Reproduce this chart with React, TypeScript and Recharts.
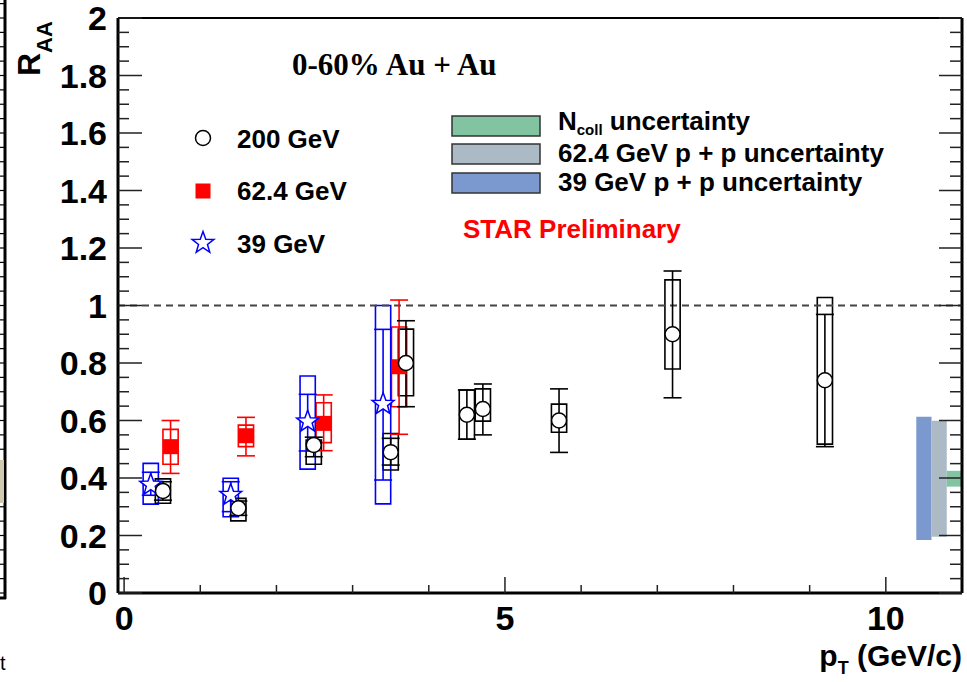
import React from "react";
import {
  ErrorBar,
  ReferenceArea,
  ReferenceLine,
  Scatter,
  ScatterChart,
  XAxis,
  YAxis,
} from "recharts";

// 200 GeV (open black circles)
const pt200 = [0.51, 1.5, 2.49, 3.5, 3.7, 4.5, 4.71, 5.71, 7.2, 9.2];
const raa200 = [0.355, 0.295, 0.515, 0.49, 0.8, 0.62, 0.64, 0.6, 0.9, 0.74];
const statLo200 = [0.323, 0.27, 0.474, 0.445, 0.648, 0.535, 0.55, 0.489, 0.679, 0.509];
const statHi200 = [0.387, 0.32, 0.542, 0.538, 0.947, 0.706, 0.727, 0.71, 1.12, 0.969];
const sysLo200 = [0.312, 0.251, 0.448, 0.428, 0.686, 0.535, 0.598, 0.559, 0.779, 0.518];
const sysHi200 = [0.397, 0.329, 0.532, 0.555, 0.918, 0.706, 0.71, 0.657, 1.089, 1.028];

// 62.4 GeV (red squares)
const pt62 = [0.61, 1.6, 2.62, 3.61];
const raa62 = [0.509, 0.547, 0.59, 0.787];
const statLo62 = [0.416, 0.477, 0.495, 0.552];
const statHi62 = [0.6, 0.611, 0.689, 1.019];
const sysLo62 = [0.448, 0.509, 0.523, 0.648];
const sysHi62 = [0.569, 0.584, 0.662, 0.925];

// 39 GeV (open blue stars)
const pt39 = [0.35, 1.4, 2.41, 3.4];
const raa39 = [0.376, 0.341, 0.596, 0.657];
const statLo39 = [0.34, 0.283, 0.494, 0.393];
const statHi39 = [0.42, 0.387, 0.691, 0.917];
const sysLo39 = [0.309, 0.265, 0.431, 0.31];
const sysHi39 = [0.451, 0.399, 0.755, 1.0];

// normalisation bands at the right edge
const bandNames = ["39 GeV p + p uncertainty", "62.4 GeV p + p uncertainty", "Ncoll uncertainty"];
const bandX1 = [10.4, 10.6, 10.8];
const bandX2 = [10.6, 10.8, 11.0];
const bandLo = [0.184, 0.196, 0.37];
const bandHi = [0.613, 0.599, 0.425];
const bandColors = ["#7b98cf", "#abbac4", "#82c4a1"];

const yMajorTicks = [0, 0.2, 0.4, 0.6, 0.8, 1, 1.2, 1.4, 1.6, 1.8, 2];
const yTickLabels = ["0", "0.2", "0.4", "0.6", "0.8", "1", "1.2", "1.4", "1.6", "1.8", "2"];
const yAllTicks = Array.from({ length: 41 }, (_, i) => i / 20);
const xMajorTicks = [0, 5, 10];
const xTickLabels = ["0", "5", "10"];
const xAllTicks = [0, 1, 2, 3, 4, 5, 6, 7, 8, 9, 10];

const X_DOMAIN: [number, number] = [-0.08, 11];
const BOX_HALF = 0.1;
const SANS = "'Liberation Sans', Arial, Helvetica, sans-serif";
const SERIF = "'Liberation Serif', 'Times New Roman', serif";

function build(pt: number[], v: number[], lo: number[], hi: number[]) {
  return pt.map((p, i) => ({ pt: p, v: v[i], err: [v[i] - lo[i], hi[i] - v[i]] }));
}

const data200 = build(pt200, raa200, statLo200, statHi200);
const data62 = build(pt62, raa62, statLo62, statHi62);
const data39 = build(pt39, raa39, statLo39, statHi39);

const near = (a: number, b: number) => Math.abs(a - b) < 1e-6;

function starPoints(cx: number, cy: number, R: number, r: number) {
  const pts: string[] = [];
  for (let k = 0; k < 10; k++) {
    const ang = -Math.PI / 2 + (k * Math.PI) / 5;
    const rad = k % 2 === 0 ? R : r;
    pts.push(`${cx + rad * Math.cos(ang)},${cy + rad * Math.sin(ang)}`);
  }
  return pts.join(" ");
}

const CircleMark = (p: any) => (
  <circle cx={p.cx} cy={p.cy} r={7.5} fill="#fff" stroke="#000" strokeWidth={1.5} />
);
const SquareMark = (p: any) => <rect x={p.cx - 7.5} y={p.cy - 7.5} width={15} height={15} fill="#ff0000" />;
const StarMark = (p: any) => (
  <polygon points={starPoints(p.cx, p.cy, 11.5, 4.7)} fill="#fff" stroke="#0000ff" strokeWidth={1.5} />
);

function LeftTick(props: any) {
  const { x, y, payload } = props;
  const idx = yMajorTicks.findIndex((t) => near(t, payload.value));
  const major = idx >= 0;
  return (
    <g>
      <line x1={x} x2={x + (major ? 24 : 11)} y1={y} y2={y} stroke="#222" strokeWidth={1.5} />
      {major && (
        <text x={x - 11} y={y + 12} textAnchor="end" fontFamily={SANS} fontWeight="bold" fontSize={34} fill="#000">
          {yTickLabels[idx]}
        </text>
      )}
    </g>
  );
}

function RightTick(props: any) {
  const { x, y, payload } = props;
  const major = yMajorTicks.some((t) => near(t, payload.value));
  return <line x1={x - (major ? 23 : 12)} x2={x} y1={y} y2={y} stroke="#222" strokeWidth={1.5} />;
}

function BottomTick(props: any) {
  const { x, y, payload } = props;
  const idx = xMajorTicks.findIndex((t) => near(t, payload.value));
  const major = idx >= 0;
  return (
    <g>
      <line x1={x} x2={x} y1={y - (major ? 16 : 8)} y2={y} stroke="#222" strokeWidth={1.5} />
      {major && (
        <text x={x} y={y + 37} textAnchor="middle" fontFamily={SANS} fontWeight="bold" fontSize={34} fill="#000">
          {xTickLabels[idx]}
        </text>
      )}
    </g>
  );
}

function TopTick(props: any) {
  const { x, y, payload } = props;
  const major = xMajorTicks.some((t) => near(t, payload.value));
  return <line x1={x} x2={x} y1={y} y2={y + (major ? 16 : 8)} stroke="#222" strokeWidth={1.5} />;
}

function boxes(pt: number[], lo: number[], hi: number[], color: string, key: string) {
  return pt.map((p, i) => (
    <ReferenceArea
      key={`${key}-${i}`}
      x1={p - BOX_HALF}
      x2={p + BOX_HALF}
      y1={lo[i]}
      y2={hi[i]}
      fill="none"
      fillOpacity={0}
      stroke={color}
      strokeWidth={1.6}
      ifOverflow="visible"
    />
  ));
}

function Overlay() {
  const txt = { fontFamily: SANS, fontWeight: "bold" as const, fill: "#000" };
  const legendRows = [
    { y: 116, color: bandColors[2] },
    { y: 144, color: bandColors[1] },
    { y: 173, color: bandColors[0] },
  ];
  const edgeTicks = Array.from({ length: 42 }, (_, k) => 593 - k * 14.375);
  return (
    <svg width={967} height={682} style={{ position: "absolute", left: 0, top: 0, pointerEvents: "none" }}>
      {/* piece of the neighbouring panel at the left edge */}
      <line x1={5} x2={5} y1={0} y2={599} stroke="#000" strokeWidth={3} />
      <line x1={0} x2={6} y1={598} y2={598} stroke="#000" strokeWidth={3} />
      {edgeTicks.map((ty, k) => (
        <line key={k} x1={0} x2={4} y1={ty} y2={ty} stroke="#000" strokeWidth={1.2} />
      ))}
      <rect x={0} y={460} width={4} height={43} fill="#cfc9ae" />
      <text x={0} y={670} fontFamily={SANS} fontSize={20} fill="#000">t</text>

      {/* axis titles */}
      <text transform="translate(40,76) rotate(-90)" {...txt} fontSize={32}>
        R<tspan fontSize={22} dy={12}>AA</tspan>
      </text>
      <text x={962} y={666} textAnchor="end" {...txt} fontSize={30}>
        p<tspan fontSize={18} dy={8}>T</tspan>
        <tspan dy={-8}> (GeV/c)</tspan>
      </text>

      <text x={292} y={75} fontFamily={SERIF} fontWeight="bold" fontSize={31} fill="#000">
        0-60% Au + Au
      </text>

      {/* marker legend */}
      <CircleMark cx={203} cy={138} />
      <text x={237} y={148} {...txt} fontSize={26}>200 GeV</text>
      <SquareMark cx={203} cy={191} />
      <text x={237} y={200} {...txt} fontSize={26}>62.4 GeV</text>
      <StarMark cx={203} cy={243} />
      <text x={237} y={253} {...txt} fontSize={26}>39 GeV</text>

      {/* band legend */}
      {legendRows.map((r, k) => (
        <rect key={k} x={452} y={r.y} width={88} height={20} fill={r.color} stroke="#333" strokeWidth={1.5} />
      ))}
      <text x={558} y={130} {...txt} fontSize={26}>
        N<tspan fontSize={15} dy={5}>coll</tspan>
        <tspan dy={-5}> uncertainty</tspan>
      </text>
      <text x={558} y={162} {...txt} fontSize={26}>{bandNames[1]}</text>
      <text x={558} y={191} {...txt} fontSize={26}>{bandNames[0]}</text>

      <text x={463} y={238} fontFamily={SANS} fontWeight="bold" fontSize={26} fill="#ff0000">
        STAR Preliminary
      </text>
    </svg>
  );
}

export default function App() {
  return (
    <div style={{ position: "absolute", left: 0, top: 0, width: 967, height: 682, background: "#fff" }}>
      <ScatterChart width={967} height={682} margin={{ top: 17, right: 4, bottom: 88, left: 117 }}>
        <XAxis
          dataKey="pt"
          type="number"
          domain={X_DOMAIN}
          allowDataOverflow
          ticks={xAllTicks}
          interval={0}
          height={1}
          tickSize={0}
          tickMargin={0}
          tickLine={false}
          axisLine={{ stroke: "#000", strokeWidth: 3 }}
          tick={(p: any) => <BottomTick {...p} />}
        />
        <XAxis
          xAxisId="top"
          orientation="top"
          type="number"
          domain={X_DOMAIN}
          allowDataOverflow
          ticks={xAllTicks}
          interval={0}
          height={1}
          tickSize={0}
          tickMargin={0}
          tickLine={false}
          axisLine={{ stroke: "#000", strokeWidth: 2 }}
          tick={(p: any) => <TopTick {...p} />}
        />
        <YAxis
          dataKey="v"
          type="number"
          domain={[0, 2]}
          allowDataOverflow
          ticks={yAllTicks}
          interval={0}
          width={1}
          tickSize={0}
          tickMargin={0}
          tickLine={false}
          axisLine={{ stroke: "#000", strokeWidth: 3 }}
          tick={(p: any) => <LeftTick {...p} />}
        />
        <YAxis
          yAxisId="right"
          orientation="right"
          type="number"
          domain={[0, 2]}
          allowDataOverflow
          ticks={yAllTicks}
          interval={0}
          width={1}
          tickSize={0}
          tickMargin={0}
          tickLine={false}
          axisLine={{ stroke: "#000", strokeWidth: 3 }}
          tick={(p: any) => <RightTick {...p} />}
        />

        <ReferenceLine y={1} stroke="#444" strokeWidth={2} strokeDasharray="7 5" />

        {bandX1.map((x1, i) => (
          <ReferenceArea
            key={`band-${i}`}
            x1={x1}
            x2={bandX2[i]}
            y1={bandLo[i]}
            y2={bandHi[i]}
            fill={bandColors[i]}
            fillOpacity={1}
            stroke="none"
            ifOverflow="visible"
          />
        ))}

        {boxes(pt62, sysLo62, sysHi62, "#ff0000", "b62")}
        {boxes(pt39, sysLo39, sysHi39, "#0000ff", "b39")}
        {boxes(pt200, sysLo200, sysHi200, "#000", "b200")}

        <Scatter name="62.4 GeV" data={data62} shape={SquareMark} isAnimationActive={false}>
          <ErrorBar dataKey="err" direction="y" width={9} stroke="#ff0000" strokeWidth={1.6} isAnimationActive={false} />
        </Scatter>
        <Scatter name="39 GeV" data={data39} shape={StarMark} isAnimationActive={false}>
          <ErrorBar dataKey="err" direction="y" width={9} stroke="#0000ff" strokeWidth={1.6} isAnimationActive={false} />
        </Scatter>
        <Scatter name="200 GeV" data={data200} shape={CircleMark} isAnimationActive={false}>
          <ErrorBar dataKey="err" direction="y" width={9} stroke="#000" strokeWidth={1.6} isAnimationActive={false} />
        </Scatter>
      </ScatterChart>
      <Overlay />
    </div>
  );
}
